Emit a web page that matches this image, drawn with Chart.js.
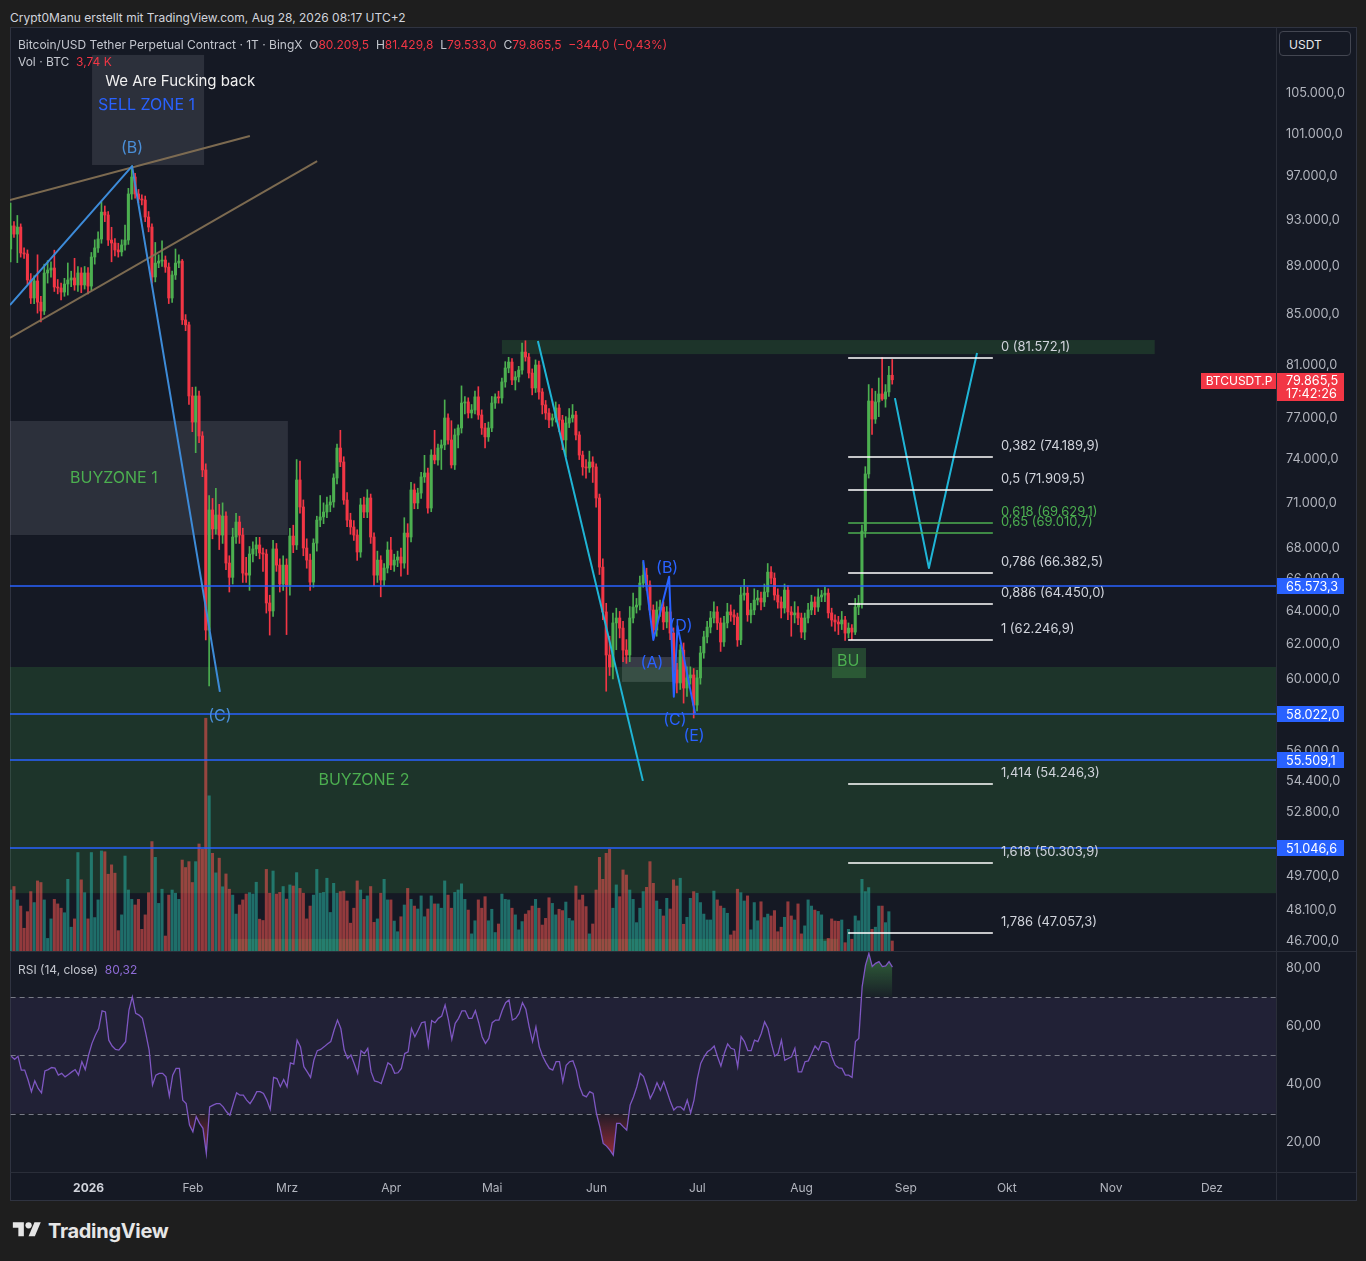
<!DOCTYPE html>
<html>
<head>
<meta charset="utf-8">
<title>BTCUSDT.P 1T</title>
<script src="https://cdn.jsdelivr.net/npm/chart.js@4.4.1/dist/chart.umd.min.js"></script>
<style>
  html, body { margin: 0; padding: 0; }
  body { width: 1366px; height: 1261px; background: #1e1e1e; position: relative; overflow: hidden;
         font-family: Inter, "Noto Sans", "DejaVu Sans", sans-serif; }
  .abs { position: absolute; white-space: nowrap; }
  #credit { left: 10px; top: 10px; font-size: 12px; color: #d1d4dc; }
  #frame { left: 10px; top: 27px; width: 1345px; height: 1172px; border: 1px solid #2f3340; background: #151924; }
  #priceCanvas { left: 10px; top: 28px; }
  #rsiCanvas { left: 10px; top: 951px; }
  .legend { font-size: 12px; color: #c3c6ce; z-index: 5; }
  .red { color: #f23645; }
  .purple { color: #8e6bd6; }
  #usdt { left: 1279px; top: 31px; width: 72px; height: 25px; border: 1px solid #434651; border-radius: 4px;
          color: #e8e9ec; font-size: 12px; line-height: 25px; box-sizing: border-box; padding-left: 9px;
          background: #151924; z-index: 5; }
  #logo { left: 12px; top: 1219px; color: #e6e6e6; font-size: 20px; font-weight: 700; letter-spacing: -0.3px; }
  #logo svg { vertical-align: -3px; margin-right: 6px; }
</style>
</head>
<body>
<div id="credit" class="abs">Crypt0Manu erstellt mit TradingView.com, Aug 28, 2026 08:17 UTC+2</div>
<div id="frame" class="abs"></div>
<canvas id="priceCanvas" class="abs" width="1346" height="923"></canvas>
<canvas id="rsiCanvas" class="abs" width="1346" height="249"></canvas>
<div id="legend1" class="abs legend" style="left:18px;top:37px"></div>
<div id="legend2" class="abs legend" style="left:18px;top:54px"></div>
<div id="legend3" class="abs legend" style="left:18px;top:962px"></div>
<div id="usdt" class="abs">USDT</div>
<div id="logo" class="abs"><svg width="30" height="22" viewBox="0 0 36 28"><path fill="#e6e6e6" d="M14 22H7V11H0V4h14v18z"/><circle fill="#e6e6e6" cx="20" cy="8" r="4"/><path fill="#e6e6e6" d="M28 22h-8l7.5-18h8L28 22z"/></svg>TradingView</div>

<script>
// daily candles, day 0 = 1 Jan 2026, first candle = 9 Dec 2025
var startDay = -23;

var opens = [
  90500, 92520, 91800, 92420, 90160, 90070, 87860, 86360, 87780, 86020,
  85290, 88450, 88700, 88870, 87270, 87190, 86850, 87520, 87860, 88030,
  87440, 88450, 87440, 88450, 87350, 89810, 90590, 91370, 93750, 93490,
  91280, 91020, 90420, 90250, 90850, 91280, 95390, 96950, 95390, 94930,
  94840, 93310, 92420, 88110, 89290, 89460, 89550, 88950, 86360, 88280,
  89290, 89460, 84570, 84170, 78640, 76700, 78640, 75690, 73270, 62870,
  70520, 69250, 70180, 68850, 70110, 67030, 66120, 68720, 69710, 68850,
  66390, 66260, 67610, 67940, 68200, 67680, 67610, 64520, 64030, 67940,
  66900, 65700, 66900, 65640, 68780, 68200, 72570, 70720, 68000, 67220,
  65820, 68320, 69840, 70050, 70380, 70860, 71060, 72710, 74820, 73830,
  71190, 69840, 69380, 68850, 67740, 70860, 70380, 71330, 68720, 66260,
  67220, 65950, 66710, 67870, 66900, 67220, 67420, 67030, 68980, 68720,
  71880, 70990, 71670, 72780, 73060, 70650, 74320, 73970, 74820, 75040,
  77000, 75400, 73620, 75760, 76270, 78110, 78190, 77370, 77590, 78570,
  77220, 76270, 75620, 76270, 78110, 78570, 78490, 79700, 80770, 81230,
  79850, 80080, 80610, 82010, 81620, 80380, 79240, 81000, 78940, 77970,
  77370, 76850, 77000, 77740, 76850, 75400, 76630, 77000, 77220, 75760,
  74320, 73480, 73410, 73830, 73480, 71330, 66770, 63970, 61390, 60690,
  63300, 63600, 62990, 61680, 61390, 63600, 64270, 64390, 65760, 66260,
  65640, 64090, 62870, 64090, 64270, 63360, 63970, 62690, 60520, 59770,
  61680, 59480, 60060, 60230, 58520, 60060, 61510, 62460, 63050, 63600,
  63970, 63300, 62160, 63300, 63970, 63790, 63660, 62280, 65010, 65130,
  63790, 64090, 64700, 64820, 64580, 65200, 66450, 66070, 65010, 64580,
  64210, 65320, 63970, 63790, 63910, 63600, 62750, 63600, 64090, 64580,
  64270, 64890, 65010, 65130, 63910, 63480, 63360, 63240, 63480, 62690,
  62990, 62750, 64270, 64520, 69110, 72990, 78260, 76920, 78190, 78790,
  78410, 78940, 80209.5
];

var highs = [
  94570, 92900, 93450, 92700, 90600, 90420, 88400, 88200, 90000, 86500,
  89200, 89500, 89400, 90400, 87900, 87600, 88000, 89300, 88600, 89700,
  89000, 88900, 89000, 88900, 90200, 91300, 92000, 94700, 94300, 93800,
  92400, 91400, 91000, 91300, 92600, 95900, 97970, 97300, 95800, 95300,
  95200, 93800, 92700, 91070, 90000, 91200, 89900, 89300, 88600, 90500,
  90000, 89600, 85000, 84400, 79300, 79320, 79000, 76000, 73700, 71500,
  71300, 72000, 70900, 71000, 70400, 67500, 69300, 70300, 70100, 69300,
  67400, 68100, 68400, 68700, 68700, 68000, 67900, 65000, 68500, 68300,
  67300, 67500, 67300, 69300, 69500, 74000, 73900, 71200, 68600, 67600,
  68600, 70100, 71500, 71000, 71400, 71500, 73000, 75100, 76100, 74200,
  71700, 70300, 69800, 69200, 71300, 71400, 71900, 71600, 69000, 67800,
  67500, 67000, 68400, 68700, 67600, 67800, 68000, 70000, 69600, 72400,
  72300, 72000, 73100, 74300, 73400, 74700, 76100, 75100, 75400, 78340,
  77300, 76800, 76200, 76500, 79400, 78600, 78500, 78000, 79000, 79340,
  77600, 76600, 76700, 78600, 78800, 79000, 80000, 81260, 81600, 81500,
  80500, 80900, 82720, 82900, 81900, 80700, 81400, 81300, 79200, 78300,
  77700, 77300, 78190, 78000, 77200, 77100, 77700, 78000, 77500, 76000,
  74600, 74000, 74600, 74200, 73700, 71600, 67300, 64500, 62500, 63900,
  64200, 64000, 63400, 62300, 64300, 65130, 64800, 66200, 67100, 66700,
  65900, 64400, 64600, 64700, 64600, 64300, 64200, 63000, 60900, 62000,
  62100, 60700, 60700, 60600, 60500, 61900, 62800, 63400, 64000, 64590,
  64300, 63600, 63700, 64500, 64400, 64100, 63900, 65500, 66000, 65500,
  64500, 65400, 65300, 65200, 65700, 67000, 66800, 66400, 65400, 64900,
  65700, 65600, 64300, 64600, 64300, 63900, 63900, 64500, 65000, 64900,
  65400, 65300, 65500, 65400, 64200, 63800, 63700, 64000, 63700, 63300,
  63200, 64800, 65000, 69500, 73500, 79500, 79200, 79000, 80000, 81572.1,
  79500, 80900, 81429.8
];

var lows = [
  89380, 91500, 89330, 89800, 89700, 87500, 85900, 85900, 85120, 84410,
  85000, 87600, 88100, 86900, 86700, 86200, 86500, 86600, 87300, 87000,
  86900, 86800, 87100, 86700, 87000, 89200, 90200, 91000, 92900, 90800,
  89400, 89900, 89800, 89900, 90400, 90900, 94900, 95000, 94600, 94400,
  92900, 92000, 87600, 87700, 88900, 89000, 88500, 85900, 86000, 87900,
  88900, 84200, 83700, 78000, 76000, 74490, 75200, 72800, 62280, 59600,
  68600, 68900, 67900, 68300, 66600, 65200, 65700, 68300, 68300, 65800,
  65800, 65300, 67100, 67500, 67300, 66500, 63900, 62570, 63700, 66500,
  65200, 65300, 62600, 65000, 67700, 67900, 70300, 67500, 66700, 65300,
  65500, 67800, 69400, 69600, 70000, 70400, 70700, 72300, 73500, 70900,
  69400, 68900, 68500, 67200, 67400, 70000, 70000, 68300, 65600, 65800,
  64900, 65600, 66400, 66600, 66500, 66800, 66200, 66700, 66300, 68400,
  70600, 70600, 71300, 72400, 70300, 70400, 73700, 73600, 73300, 74700,
  75100, 73400, 73300, 74820, 75900, 77300, 77000, 77000, 77300, 76900,
  75800, 74820, 75300, 76000, 77700, 78100, 78100, 79300, 80400, 79500,
  79090, 79700, 80300, 81300, 80000, 78720, 78900, 78400, 77300, 76900,
  76300, 76400, 76700, 76000, 74700, 74200, 76300, 76700, 75400, 74000,
  72900, 72700, 73100, 72400, 70700, 66300, 63500, 59300, 60200, 60000,
  61700, 62400, 61000, 60900, 61000, 63300, 63900, 64100, 65500, 65300,
  63800, 62500, 62500, 63700, 62900, 63000, 62300, 60100, 59200, 59400,
  58630, 59000, 59700, 57800, 58200, 59700, 61200, 62100, 62700, 63300,
  62900, 61600, 61900, 63000, 63400, 63200, 61900, 62000, 64700, 63400,
  63300, 63800, 64400, 64100, 64300, 64900, 65700, 64700, 64200, 63600,
  63900, 63500, 62500, 63300, 63200, 62400, 62300, 63300, 63800, 63800,
  64000, 64600, 64600, 63600, 63100, 62800, 62600, 62900, 62246.9, 62400,
  62300, 62600, 63800, 64200, 68700, 72700, 75800, 76600, 77100, 78300,
  77800, 78600, 79533
];

var closes = [
  92520, 91800, 92420, 90160, 90070, 87860, 86360, 87780, 86020, 85290,
  88450, 88700, 88870, 87270, 87190, 86850, 87520, 87860, 88030, 87440,
  88450, 87440, 88450, 87350, 89810, 90590, 91370, 93750, 93490, 91280,
  91020, 90420, 90250, 90850, 91280, 95390, 96950, 95390, 94930, 94840,
  93310, 92420, 88110, 89290, 89460, 89550, 88950, 86360, 88280, 89290,
  89460, 84570, 84170, 78640, 76700, 78640, 75690, 73270, 62870, 70520,
  69250, 70180, 68850, 70110, 67030, 66120, 68720, 69710, 68850, 66390,
  66260, 67610, 67940, 68200, 67680, 67610, 64520, 64030, 67940, 66900,
  65700, 66900, 65640, 68780, 68200, 72570, 70720, 68000, 67220, 65820,
  68320, 69840, 70050, 70380, 70860, 71060, 72710, 74820, 73830, 71190,
  69840, 69380, 68850, 67740, 70860, 70380, 71330, 68720, 66260, 67220,
  65950, 66710, 67870, 66900, 67220, 67420, 67030, 68980, 68720, 71880,
  70990, 71670, 72780, 73060, 70650, 74320, 73970, 74820, 75040, 77000,
  75400, 73620, 75760, 76270, 78110, 78190, 77370, 77590, 78570, 77220,
  76270, 75620, 76270, 78110, 78570, 78490, 79700, 80770, 81230, 79850,
  80080, 80610, 82010, 81620, 80380, 79240, 81000, 78940, 77970, 77370,
  76850, 77000, 77740, 76850, 75400, 76630, 77000, 77220, 75760, 74320,
  73480, 73410, 73830, 73480, 71330, 66770, 63970, 61390, 60690, 63300,
  63600, 62990, 61680, 61390, 63600, 64270, 64390, 65760, 66260, 65640,
  64090, 62870, 64090, 64270, 63360, 63970, 62690, 60520, 59770, 61680,
  59480, 60060, 60230, 58520, 60060, 61510, 62460, 63050, 63600, 63970,
  63300, 62160, 63300, 63970, 63790, 63660, 62280, 65010, 65130, 63790,
  64090, 64700, 64820, 64580, 65200, 66450, 66070, 65010, 64580, 64210,
  65320, 63970, 63790, 63910, 63600, 62750, 63600, 64090, 64580, 64270,
  64890, 65010, 65130, 63910, 63480, 63360, 63240, 63480, 62690, 62990,
  62750, 64270, 64520, 69110, 72990, 78260, 76920, 78190, 78790, 78410,
  78940, 80209.5, 79865.5
];

// volume in thousand BTC
var volumes = [
  22.8, 24.1, 19.1, 16.8, 8.5, 14.7, 22.2, 18.1, 26.2, 25.6,
  19.1, 4.7, 12.0, 19.3, 17.6, 16.0, 14.3, 26.8, 8.9, 12.0,
  36.8, 26.6, 21.8, 12.0, 36.8, 12.5, 19.1, 37.4, 37.1, 28.7,
  32.2, 29.1, 7.6, 13.5, 35.5, 22.8, 19.3, 17.2, 19.3, 8.1,
  13.5, 21.8, 40.9, 35.0, 17.8, 23.1, 5.6, 20.9, 22.8, 21.6,
  19.3, 34.0, 31.2, 33.4, 25.6, 33.4, 40.0, 38.0, 87.0, 58.0,
  36.5, 29.2, 34.7, 24.0, 28.8, 23.1, 20.9, 13.8, 17.2, 19.1,
  21.3, 21.8, 21.3, 25.7, 11.9, 11.4, 30.5, 21.6, 29.9, 21.3,
  21.9, 24.1, 19.4, 24.7, 24.3, 29.3, 23.4, 21.6, 12.0, 16.8,
  20.9, 30.5, 21.6, 21.9, 27.2, 14.4, 25.3, 21.6, 22.2, 22.4,
  18.7, 10.4, 16.0, 26.2, 22.8, 19.3, 20.6, 24.1, 10.7, 12.0,
  21.6, 26.8, 19.1, 19.1, 11.2, 7.2, 12.8, 17.2, 23.4, 19.3,
  16.8, 15.7, 20.6, 12.8, 15.7, 20.6, 17.6, 17.6, 16.0, 26.2,
  20.9, 16.0, 21.9, 22.8, 25.1, 19.3, 15.3, 6.4, 11.3, 19.1,
  16.0, 20.3, 11.3, 15.6, 6.9, 10.1, 21.3, 19.3, 19.1, 16.0,
  13.5, 7.9, 11.0, 13.8, 15.1, 16.8, 19.3, 16.0, 9.7, 12.2,
  19.9, 17.8, 13.5, 15.6, 15.1, 18.3, 12.2, 11.3, 24.3, 19.1,
  20.9, 16.6, 6.4, 10.1, 22.8, 35.0, 26.8, 36.5, 38.0, 16.0,
  24.7, 20.3, 30.3, 28.4, 22.8, 19.3, 10.6, 16.0, 22.2, 23.8,
  33.4, 25.3, 18.7, 15.6, 13.1, 19.7, 15.7, 26.6, 24.3, 27.2,
  10.0, 12.6, 19.7, 22.2, 21.6, 18.1, 13.8, 11.6, 11.6, 22.4,
  19.1, 16.8, 16.0, 14.1, 6.0, 7.5, 23.1, 21.8, 18.7, 20.6,
  7.9, 18.1, 11.3, 18.4, 12.5, 13.8, 13.1, 15.1, 7.2, 8.9,
  12.6, 18.4, 13.1, 11.6, 17.6, 6.4, 9.4, 19.1, 16.8, 15.3,
  14.8, 13.5, 3.7, 4.7, 12.0, 11.2, 11.1, 11.6, 3.1, 8.1,
  4.4, 13.1, 11.3, 26.8, 22.2, 23.7, 8.1, 8.9, 16.8, 16.8,
  10.6, 14.7, 3.74
];

var rsiValues = [
  49.7, 48.6, 49.7, 44.9, 44.9, 41.5, 37.5, 41.2, 38.6, 37.1,
  44.6, 45.1, 45.8, 45.6, 43.2, 43.8, 42.6, 43.4, 44.3, 45.1,
  43.2, 47.8, 45.1, 50.1, 54.1, 56.9, 59.2, 65.3, 64.9, 55.2,
  53.2, 52.0, 51.8, 53.2, 54.7, 65.5, 70.1, 64.4, 63.8, 62.7,
  57.5, 51.8, 39.8, 43.2, 43.8, 43.8, 42.6, 36.0, 43.2, 45.5,
  45.5, 34.6, 33.4, 26.0, 23.7, 28.9, 26.6, 24.9, 16.3, 32.3,
  32.9, 33.4, 33.4, 32.3, 30.6, 29.4, 33.4, 37.1, 36.3, 36.3,
  34.6, 33.4, 35.2, 37.5, 37.5, 36.9, 34.6, 31.4, 42.4, 42.0,
  39.2, 41.7, 39.2, 47.4, 47.0, 55.2, 52.9, 46.1, 44.3, 42.4,
  48.4, 51.6, 52.0, 52.9, 53.9, 54.7, 58.7, 62.1, 59.2, 51.8,
  48.9, 50.1, 47.0, 43.8, 51.6, 50.6, 52.4, 44.3, 41.2, 40.9,
  40.3, 43.8, 47.4, 46.6, 43.8, 44.0, 45.5, 50.6, 51.2, 59.2,
  56.4, 58.7, 61.2, 61.5, 53.2, 61.9, 61.2, 62.7, 63.5, 67.3,
  62.1, 55.5, 61.0, 62.7, 65.3, 65.3, 62.7, 62.7, 65.3, 61.2,
  56.4, 54.1, 55.8, 61.2, 62.1, 62.1, 65.5, 68.1, 69.0, 62.1,
  62.7, 64.4, 68.1, 65.8, 59.8, 54.7, 59.8, 52.9, 49.7, 47.4,
  45.5, 44.9, 47.8, 47.8, 40.9, 46.6, 47.8, 48.1, 44.9, 39.2,
  36.3, 35.7, 37.5, 36.9, 30.0, 25.4, 19.7, 18.8, 17.4, 15.7,
  26.6, 26.6, 25.4, 24.3, 32.9, 35.7, 39.2, 43.8, 42.7, 39.2,
  35.2, 37.5, 40.6, 38.0, 40.9, 37.5, 34.0, 31.2, 32.3, 32.3,
  31.2, 34.6, 30.2, 34.6, 42.0, 47.2, 49.5, 51.2, 52.0, 53.2,
  49.5, 46.3, 50.6, 53.9, 52.4, 52.0, 46.1, 56.4, 54.7, 51.6,
  51.6, 55.2, 54.7, 57.5, 61.5, 59.2, 54.1, 49.7, 50.6, 55.2,
  48.3, 48.9, 49.5, 52.4, 44.3, 44.3, 47.8, 48.1, 50.6, 53.2,
  51.8, 54.7, 54.7, 54.1, 49.5, 46.6, 45.7, 45.5, 43.2, 43.2,
  42.4, 54.7, 55.8, 73.6, 81.0, 85.0, 80.5, 81.6, 82.2, 80.5,
  80.7, 82.2, 80.32
];

var monthDays = [0, 31, 59, 90, 120, 151, 181, 212, 243, 273, 304, 334];
var monthNames = ['2026', 'Feb', 'Mrz', 'Apr', 'Mai', 'Jun', 'Jul', 'Aug', 'Sep', 'Okt', 'Nov', 'Dez'];
var priceTicks = [105000, 101000, 97000, 93000, 89000, 85000, 81000, 77000, 74000, 71000, 68000, 66000,
                  64000, 62000, 60000, 58000, 56000, 54400, 52800, 51000, 49700, 48100, 46700];
var rsiTicks = [20, 40, 60, 80];

// horizontal price lines (blue) and the fib retracement tool
var hLevels = [65573.3, 58022.0, 55509.1, 51046.6];
var fibRatios = [0, 0.382, 0.5, 0.618, 0.65, 0.786, 0.886, 1, 1.414, 1.618, 1.786];
var fibPrices = [81572.1, 74189.9, 71909.5, 69629.1, 69010.7, 66382.5, 64450.0, 62246.9, 54246.3, 50303.9, 47057.3];
var fibGreen = [0.618, 0.65];
var fibFrom = 225.9, fibTo = 268.9, fibLabelDay = 271.3;

// drawings in chart units: boxes [dayFrom, dayTo, priceTop, priceBottom]
var grayBoxes = [[1.2, 34.5, 108950, 98070], [-40, 59.4, 76780, 68850], [158.7, 178.9, 61270, 59830]];
var greenBoxes = [[-40, 400, 60690, 48890], [123, 317, 82960, 81850], [221.1, 231.2, 61800, 60050], [42.2, 222.9, 46800, 40000]];
// lines as [day, price] points
var channelUpper = [[-23.2, 94840], [48.1, 100830]];
var channelLower = [[-23.2, 83120], [68.1, 98440]];
var waveLeft = [[-23.2, 85780], [13.1, 97970], [39.2, 59260]];
var cyanDrop = [[133.7, 82880], [164.9, 54430]];
var cyanPath = [[239.8, 78480], [249.9, 66710], [264.2, 81930]];
var waveAbcde = [[165.0, 67220], [168.0, 62280], [172.7, 66160], [174.1, 58990], [175.2, 63110], [180.4, 58060]];
var notes = [
  ['We Are Fucking back', 5.1, 106260, 'white', 'left', 15],
  ['SELL ZONE 1', 3.0, 103860, 'blue', 'left', 16],
  ['(B)', 13.1, 99680, 'steel', 'center', 16],
  ['(C)', 39.2, 57910, 'steel', 'center', 16],
  ['BUYZONE 1', 7.7, 72710, 'green', 'center', 16],
  ['BUYZONE 2', 82.0, 54470, 'green', 'center', 16],
  ['(A)', 167.6, 60930, 'wave', 'center', 16],
  ['(B)', 172.1, 66710, 'wave', 'center', 16],
  ['(C)', 174.4, 57690, 'wave', 'center', 16],
  ['(D)', 176.2, 63110, 'wave', 'center', 16],
  ['(E)', 180.1, 56820, 'wave', 'center', 16],
  ['BU', 225.9, 61040, 'green', 'center', 16]
];

var viewDays = [-23.18, 353.05];
var viewPrice = [46260, 111790];
var viewRsi = [9.9, 85.5];
var volMax = 345;

// ---------- helpers ----------
var FONT = 'Inter, "Noto Sans", sans-serif';
var noteColors = { white: '#f0f0f0', blue: '#2962ff', steel: '#4a8fd8', green: '#4caf50', wave: '#2962ff' };

function fmt(v, dec) {
  if (dec === undefined) dec = 1;
  var parts = Math.abs(v).toFixed(dec).split('.');
  var s = parts[0].replace(/\B(?=(\d{3})+(?!\d))/g, '.') + (dec ? ',' + parts[1] : '');
  return (v < 0 ? '\u2212' : '') + s;
}

var days = closes.map(function (c, i) { return startDay + i; });
var isUp = closes.map(function (c, i) { return c >= opens[i]; });
var last = closes.length - 1;

function pt(chart, d, p) {
  return [chart.scales.x.getPixelForValue(d), chart.scales.y.getPixelForValue(p)];
}
function fillBox(chart, b, color) {
  var a = pt(chart, b[0], b[2]), c = pt(chart, b[1], b[3]);
  chart.ctx.fillStyle = color;
  chart.ctx.fillRect(a[0], a[1], c[0] - a[0], c[1] - a[1]);
}
function polyline(chart, pts, color, width) {
  var ctx = chart.ctx;
  ctx.beginPath();
  pts.forEach(function (q, i) {
    var p = pt(chart, q[0], q[1]);
    if (i) ctx.lineTo(p[0], p[1]); else ctx.moveTo(p[0], p[1]);
  });
  ctx.strokeStyle = color;
  ctx.lineWidth = width;
  ctx.lineJoin = 'round';
  ctx.stroke();
}
function clipTo(ctx, a) {
  ctx.beginPath();
  ctx.rect(a.left, a.top, a.right - a.left, a.bottom - a.top);
  ctx.clip();
}

// ---------- price pane drawings ----------
var priceDrawings = {
  id: 'priceDrawings',
  beforeDatasetsDraw: function (chart) {
    var ctx = chart.ctx;
    ctx.save();
    clipTo(ctx, chart.chartArea);
    grayBoxes.forEach(function (b, i) { fillBox(chart, b, i === 2 ? 'rgba(120,123,134,0.35)' : 'rgba(120,123,134,0.24)'); });
    greenBoxes.forEach(function (b, i) { fillBox(chart, b, i === 3 ? 'rgba(76,175,80,0.28)' : (i === 2 ? 'rgba(76,175,80,0.3)' : 'rgba(67,160,71,0.2)')); });
    ctx.restore();
  },
  afterDatasetsDraw: function (chart) {
    var ctx = chart.ctx, a = chart.chartArea;
    ctx.save();
    clipTo(ctx, a);
    // horizontal levels
    hLevels.forEach(function (v) {
      var y = chart.scales.y.getPixelForValue(v);
      ctx.fillStyle = '#2962ff';
      ctx.fillRect(a.left, Math.round(y) - 0.75, a.right - a.left, 1.5);
    });
    polyline(chart, channelUpper, 'rgba(135,115,85,0.9)', 2);
    polyline(chart, channelLower, 'rgba(135,115,85,0.9)', 2);
    polyline(chart, waveLeft, '#3d8bd9', 2);
    polyline(chart, cyanDrop, '#1fb5d6', 2);
    polyline(chart, cyanPath, '#1fb5d6', 2);
    polyline(chart, waveAbcde, '#2962ff', 2);

    // fib retracement
    var x0 = chart.scales.x.getPixelForValue(fibFrom), x1 = chart.scales.x.getPixelForValue(fibTo);
    var xl = chart.scales.x.getPixelForValue(fibLabelDay);
    ctx.font = '13px ' + FONT;
    ctx.textAlign = 'left';
    ctx.textBaseline = 'middle';
    fibRatios.forEach(function (r, i) {
      var y = Math.round(chart.scales.y.getPixelForValue(fibPrices[i]));
      var green = fibGreen.indexOf(r) >= 0;
      ctx.fillStyle = green ? '#4caf50' : '#ffffff';
      ctx.fillRect(x0, y - 0.75, x1 - x0, 1.5);
      ctx.fillStyle = green ? '#4caf50' : '#d1d4dc';
      ctx.fillText(String(r).replace('.', ',') + ' (' + fmt(fibPrices[i]) + ')', xl, y - 11);
    });

    // text notes
    notes.forEach(function (n) {
      var p = pt(chart, n[1], n[2]);
      ctx.font = n[5] + 'px ' + FONT;
      ctx.fillStyle = noteColors[n[3]];
      ctx.textAlign = n[4];
      ctx.fillText(n[0], p[0], p[1]);
    });
    ctx.restore();
  },
  afterDraw: function (chart) {
    var ctx = chart.ctx, a = chart.chartArea, ys = chart.scales.y;
    ctx.save();
    ctx.fillStyle = '#2a2e39';
    ctx.fillRect(a.right, 0, 1, chart.height);
    ctx.font = '12.7px ' + FONT;
    ctx.textBaseline = 'middle';
    ctx.textAlign = 'left';
    hLevels.forEach(function (v) {
      var y = Math.round(ys.getPixelForValue(v));
      ctx.fillStyle = '#2962ff';
      ctx.fillRect(a.right + 1, y - 8, 67, 16);
      ctx.fillStyle = '#ffffff';
      ctx.fillText(fmt(v), a.right + 10, y + 1);
    });
    // last price tag
    var yl = Math.round(ys.getPixelForValue(closes[last]));
    ctx.fillStyle = '#f23645';
    ctx.fillRect(a.right + 1, yl - 7, 67, 28);
    ctx.fillRect(a.right - 75, yl - 7, 75, 16);
    ctx.fillStyle = '#ffffff';
    ctx.fillText(fmt(closes[last]), a.right + 10, yl + 1);
    ctx.fillText('17:42:26', a.right + 10, yl + 14);
    ctx.font = '12px ' + FONT;
    ctx.textAlign = 'center';
    ctx.fillText('BTCUSDT.P', a.right - 37, yl + 1);
    ctx.restore();
  }
};

// ---------- RSI pane drawings ----------
var rsiDrawings = {
  id: 'rsiDrawings',
  beforeDatasetsDraw: function (chart) {
    var ctx = chart.ctx, a = chart.chartArea, ys = chart.scales.y;
    var y70 = ys.getPixelForValue(70), y30 = ys.getPixelForValue(30), y50 = ys.getPixelForValue(50);
    ctx.save();
    ctx.fillStyle = 'rgba(255,255,255,0.012)';
    ctx.fillRect(a.left, a.top, a.right - a.left, a.bottom - a.top);
    ctx.fillStyle = 'rgba(126,87,194,0.1)';
    ctx.fillRect(a.left, y70, a.right - a.left, y30 - y70);
    ctx.strokeStyle = '#787b86';
    ctx.lineWidth = 1;
    ctx.setLineDash([5, 4]);
    [y70, y50, y30].forEach(function (y) {
      ctx.beginPath();
      ctx.moveTo(a.left, Math.round(y) + 0.5);
      ctx.lineTo(a.right, Math.round(y) + 0.5);
      ctx.stroke();
    });
    ctx.restore();
  },
  afterDraw: function (chart) {
    var ctx = chart.ctx, a = chart.chartArea;
    ctx.save();
    ctx.fillStyle = '#2a2e39';
    ctx.fillRect(a.left, 0, chart.width, 1);
    ctx.fillRect(a.right, 0, 1, chart.height);
    ctx.fillRect(a.left, a.bottom, chart.width, 1);
    ctx.restore();
  }
};

Chart.defaults.font.family = FONT;
Chart.defaults.font.size = 12;
Chart.defaults.color = '#b2b5be';

function fixWidth(scale) { scale.width = 80; scale.paddingTop = 0; scale.paddingBottom = 0; }
var axisTicks = { autoSkip: false, padding: 10, crossAlign: 'near', color: '#b2b5be', font: { size: 12.7 } };

new Chart(document.getElementById('priceCanvas'), {
  type: 'bar',
  data: {
    datasets: [
      {
        label: 'body',
        data: days.map(function (d, i) { return { x: d, y: [opens[i], closes[i]] }; }),
        backgroundColor: isUp.map(function (u) { return u ? '#4caf50' : '#f23645'; }),
        barThickness: 2.4, minBarLength: 1, grouped: false, yAxisID: 'y'
      },
      {
        label: 'wick',
        data: days.map(function (d, i) { return { x: d, y: [lows[i], highs[i]] }; }),
        backgroundColor: isUp.map(function (u) { return u ? '#4caf50' : '#f23645'; }),
        barThickness: 1, grouped: false, yAxisID: 'y'
      },
      {
        label: 'Vol',
        data: days.map(function (d, i) { return { x: d, y: volumes[i] }; }),
        backgroundColor: isUp.map(function (u) { return u ? 'rgba(38,166,154,0.6)' : 'rgba(239,83,80,0.58)'; }),
        barThickness: 2.4, grouped: false, yAxisID: 'vol'
      }
    ]
  },
  options: {
    responsive: false,
    animation: false,
    events: [],
    layout: { padding: 0 },
    plugins: { legend: { display: false }, tooltip: { enabled: false } },
    scales: {
      x: { type: 'linear', min: viewDays[0], max: viewDays[1], bounds: 'data', offset: false, display: false },
      y: {
        type: 'logarithmic', position: 'right', min: viewPrice[0], max: viewPrice[1], bounds: 'data',
        grid: { display: false, drawTicks: false }, border: { display: false },
        ticks: Object.assign({}, axisTicks, { callback: function (v) { return fmt(v); } }),
        afterBuildTicks: function (s) { s.ticks = priceTicks.map(function (v) { return { value: v }; }); },
        afterFit: fixWidth
      },
      vol: { type: 'linear', display: false, min: 0, max: volMax }
    }
  },
  plugins: [priceDrawings]
});

var rsiChart = new Chart(document.getElementById('rsiCanvas'), {
  type: 'line',
  data: {
    datasets: [
      {
        label: 'RSI',
        data: days.map(function (d, i) { return { x: d, y: rsiValues[i] }; }),
        borderColor: '#7e57c2', borderWidth: 1.3, pointRadius: 0, tension: 0,
        fill: { target: { value: 70 }, above: 'rgba(76,175,80,0.38)', below: 'rgba(0,0,0,0)' }
      },
      {
        label: 'oversold',
        data: days.map(function (d, i) { return { x: d, y: rsiValues[i] }; }),
        borderWidth: 0, borderColor: 'rgba(0,0,0,0)', pointRadius: 0, tension: 0,
        fill: { target: { value: 30 }, above: 'rgba(0,0,0,0)', below: 'rgba(242,54,69,0.42)' }
      }
    ]
  },
  options: {
    responsive: false,
    animation: false,
    events: [],
    layout: { padding: { top: 1 } },
    plugins: { legend: { display: false }, tooltip: { enabled: false } },
    scales: {
      x: {
        type: 'linear', min: viewDays[0], max: viewDays[1], bounds: 'data', offset: false,
        grid: { display: false, drawTicks: false }, border: { display: false },
        ticks: {
          autoSkip: false, maxRotation: 0, padding: 9,
          color: function (c) { return c.tick && c.tick.value === 0 ? '#d1d4dc' : '#b2b5be'; },
          font: function (c) { return { size: 12, weight: c.tick && c.tick.value === 0 ? 'bold' : 'normal' }; },
          callback: function (v) { var k = monthDays.indexOf(v); return k >= 0 ? monthNames[k] : ''; }
        },
        afterBuildTicks: function (s) { s.ticks = monthDays.map(function (v) { return { value: v }; }); },
        afterFit: function (s) { s.height = 28; s.paddingLeft = 0; s.paddingRight = 0; }
      },
      y: {
        type: 'linear', position: 'right', min: viewRsi[0], max: viewRsi[1], bounds: 'data',
        grid: { display: false, drawTicks: false }, border: { display: false },
        ticks: Object.assign({}, axisTicks, { callback: function (v) { return v.toFixed(2).replace('.', ','); } }),
        afterBuildTicks: function (s) { s.ticks = rsiTicks.map(function (v) { return { value: v }; }); },
        afterFit: fixWidth
      }
    }
  },
  plugins: [rsiDrawings]
});

// gradient fills for overbought / oversold zones
(function () {
  var ys = rsiChart.scales.y, c = rsiChart.ctx;
  var g = c.createLinearGradient(0, ys.getPixelForValue(85), 0, ys.getPixelForValue(70));
  g.addColorStop(0, 'rgba(76,175,80,0.5)');
  g.addColorStop(1, 'rgba(76,175,80,0.03)');
  var r = c.createLinearGradient(0, ys.getPixelForValue(30), 0, ys.getPixelForValue(15));
  r.addColorStop(0, 'rgba(242,54,69,0.05)');
  r.addColorStop(1, 'rgba(242,54,69,0.6)');
  rsiChart.data.datasets[0].fill.above = g;
  rsiChart.data.datasets[1].fill.below = r;
  rsiChart.update();
})();

// legends from the data
var chg = closes[last] - closes[last - 1];
document.getElementById('legend1').innerHTML =
  'Bitcoin/USD Tether Perpetual Contract \u00b7 1T \u00b7 BingX&nbsp;&nbsp;' +
  'O<span class="red">' + fmt(opens[last]) + '</span>&nbsp;&nbsp;' +
  'H<span class="red">' + fmt(highs[last]) + '</span>&nbsp;&nbsp;' +
  'L<span class="red">' + fmt(lows[last]) + '</span>&nbsp;&nbsp;' +
  'C<span class="red">' + fmt(closes[last]) + '</span>&nbsp;&nbsp;' +
  '<span class="red">' + fmt(chg) + ' (' + fmt(chg / closes[last - 1] * 100, 2) + '%)</span>';
document.getElementById('legend2').innerHTML =
  'Vol \u00b7 BTC&nbsp;&nbsp;<span class="red">' + fmt(volumes[last], 2) + ' K</span>';
document.getElementById('legend3').innerHTML =
  'RSI (14, close)&nbsp;&nbsp;<span class="purple">' + fmt(rsiValues[last], 2) + '</span>';
</script>
</body>
</html>
